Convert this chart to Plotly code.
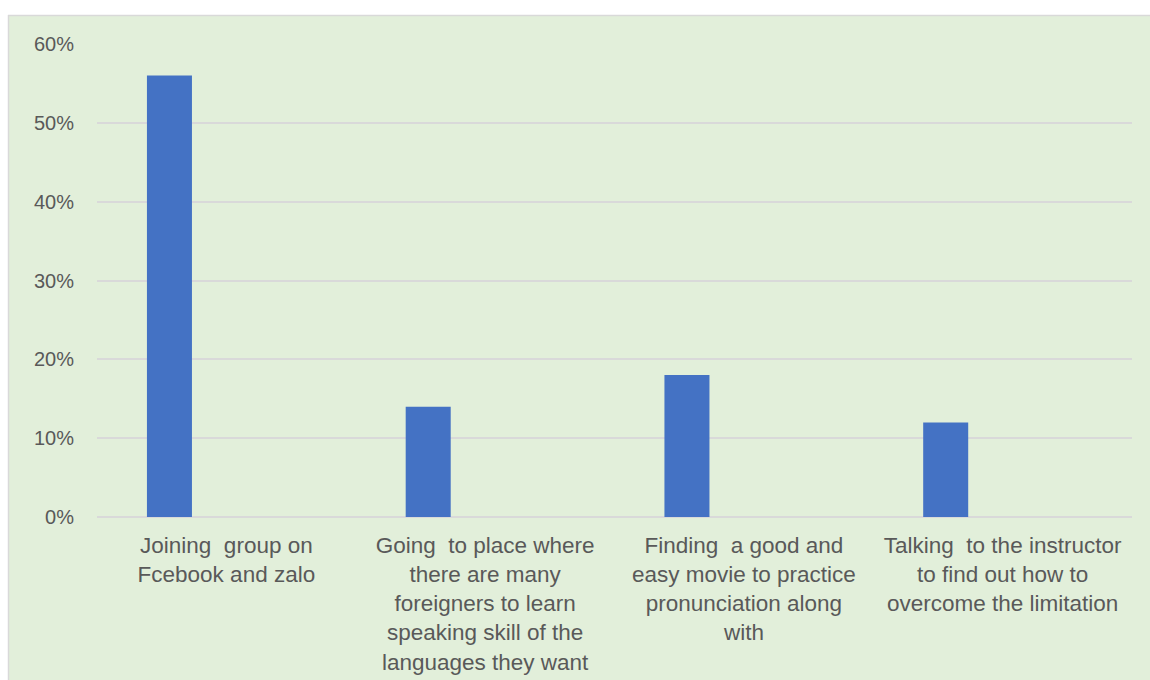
import plotly.graph_objects as go

categories = [
    "Joining&nbsp; group on<br>Fcebook and zalo",
    "Going&nbsp; to place where<br>there are many<br>foreigners to learn<br>speaking skill of the<br>languages they want",
    "Finding&nbsp; a good and<br>easy movie to practice<br>pronunciation along<br>with",
    "Talking&nbsp; to the instructor<br>to find out how to<br>overcome the limitation",
]
values = [0.56, 0.14, 0.18, 0.12]
y_ticks = [0, 0.1, 0.2, 0.3, 0.4, 0.5, 0.6]

positions = list(range(len(categories)))

fig = go.Figure()
fig.add_trace(go.Bar(
    x=positions, y=values,
    marker=dict(color="#4472C4", line=dict(width=0)),
    width=0.174, offset=-0.307,
    hoverinfo="skip",
))

W, H = 1150, 680
L, R, T, B = 97, 18, 44, 163
pw, ph = W - L - R, H - T - B

def px_x(p):
    return (p - L) / pw

def px_y(p):
    return (H - B - p) / ph

shapes = [
    dict(type="rect", xref="paper", yref="paper",
         x0=px_x(8), x1=px_x(1200), y0=px_y(720), y1=px_y(15),
         fillcolor="#E2EFDA", line=dict(width=0), layer="below"),
    dict(type="line", xref="paper", yref="paper",
         x0=px_x(8), x1=px_x(1200), y0=px_y(15.5), y1=px_y(15.5),
         line=dict(color="#D9D9D9", width=1.5), layer="below"),
    dict(type="line", xref="paper", yref="paper",
         x0=px_x(8.5), x1=px_x(8.5), y0=px_y(15), y1=px_y(720),
         line=dict(color="#D9D9D9", width=1.5), layer="below"),
]

fig.update_layout(
    width=W, height=H,
    margin=dict(l=L, r=R, t=T, b=B, pad=0, autoexpand=False),
    paper_bgcolor="white",
    plot_bgcolor="rgba(0,0,0,0)",
    showlegend=False,
    shapes=shapes,
    font=dict(family="Liberation Sans, Arial, sans-serif", color="#595959"),
    xaxis=dict(
        range=[-0.5, len(categories) - 0.5],
        tickmode="array", tickvals=positions, ticktext=categories,
        showgrid=False, zeroline=False, showline=False,
        ticks="", tickfont=dict(size=22.5, color="#595959"),
        ticklabelstandoff=12,
        automargin=False,
        fixedrange=True,
    ),
    yaxis=dict(
        range=[0, 0.6],
        tickmode="array", tickvals=y_ticks,
        tickformat=".0%",
        showgrid=True, gridcolor="#D9D9D9", gridwidth=2,
        zeroline=True, zerolinecolor="#D9D9D9", zerolinewidth=2,
        showline=False, ticks="",
        tickfont=dict(size=20, color="#595959"),
        ticklabelstandoff=22,
        automargin=False,
        fixedrange=True,
    ),
)

fig.write_html("out.html")
